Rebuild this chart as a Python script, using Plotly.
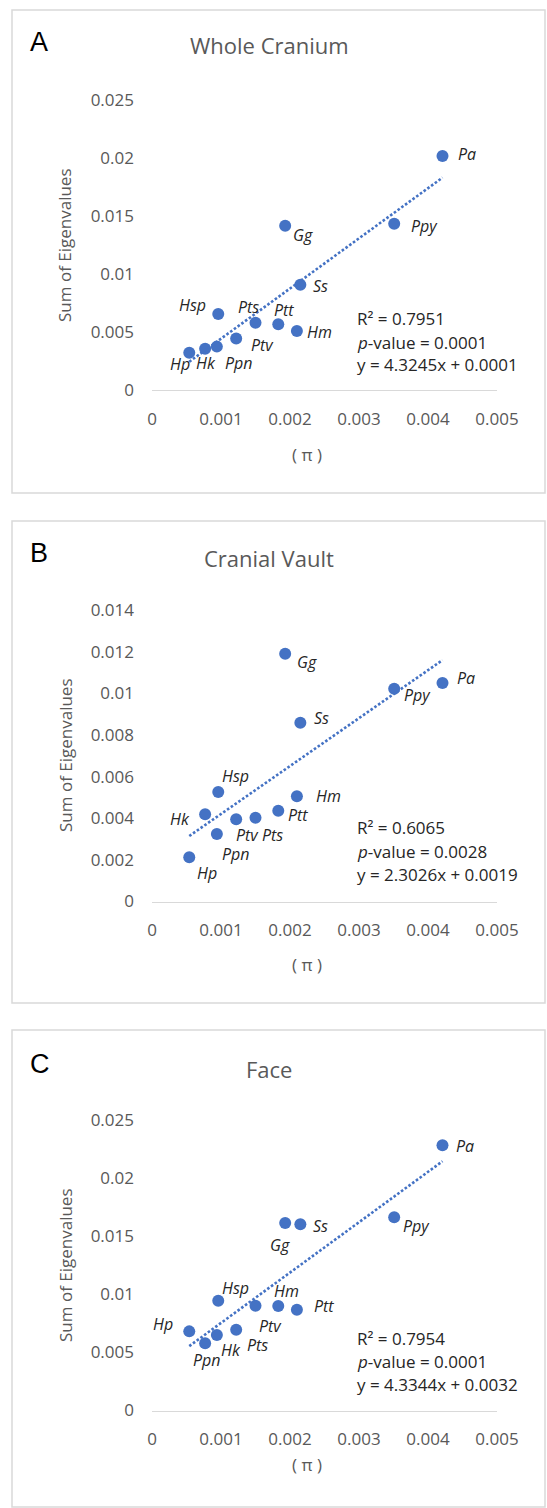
import plotly.graph_objects as go

# ---------------- data ----------------
species = ["Hp", "Hk", "Ppn", "Hsp", "Ptv", "Pts", "Ptt", "Gg", "Hm", "Ss", "Ppy", "Pa"]
pi_values = [0.00054, 0.00077, 0.00094, 0.00096, 0.00122, 0.00150, 0.00183, 0.00193, 0.00210, 0.00215, 0.00351, 0.00421]

whole_cranium = [0.00322, 0.00356, 0.00374, 0.00655, 0.00443, 0.00580, 0.00566, 0.01416, 0.00509, 0.00908, 0.01434, 0.02017]
cranial_vault = [0.00212, 0.00419, 0.00324, 0.00526, 0.00395, 0.00402, 0.00436, 0.01190, 0.00506, 0.00858, 0.01022, 0.01049]
face = [0.00681, 0.00578, 0.00650, 0.00945, 0.00695, 0.00902, 0.00899, 0.01614, 0.00867, 0.01602, 0.01663, 0.02282]

labels_a = species
labels_b = species
labels_c = ["Hp", "Ppn", "Hk", "Hsp", "Pts", "Ptv", "Hm", "Gg", "Ptt", "Ss", "Ppy", "Pa"]

panel_letters = ["A", "B", "C"]
panel_titles = ["Whole Cranium", "Cranial Vault", "Face"]
slopes = [4.3245, 2.3026, 4.3344]
intercepts = [0.0001, 0.0019, 0.0032]
r2_values = ["0.7951", "0.6065", "0.7954"]
p_values = ["0.0001", "0.0028", "0.0001"]

x_tickvals = [0, 0.001, 0.002, 0.003, 0.004, 0.005]
x_ticktext = ["0", "0.001", "0.002", "0.003", "0.004", "0.005"]
y_tickvals_a = [0, 0.005, 0.01, 0.015, 0.02, 0.025]
y_ticktext_a = ["0", "0.005", "0.01", "0.015", "0.02", "0.025"]
y_tickvals_b = [0, 0.002, 0.004, 0.006, 0.008, 0.01, 0.012, 0.014]
y_ticktext_b = ["0", "0.002", "0.004", "0.006", "0.008", "0.01", "0.012", "0.014"]

# ---------------- styling / layout ----------------
W, H = 547, 1508
BLUE = "#4472C4"
GRAY = "#595959"
FONT = "Open Sans"

def px_x(p):
    return p / W

def px_y(p):
    return 1 - p / H

panels = [
    dict(y0=390, y1=100, box=(10, 493), ymax=0.025, tv=y_tickvals_a, tt=y_ticktext_a,
         yvals=whole_cranium, labels=labels_a, title_y=45, letter_y=42, ytitle_y=245, xtitle_y=454,
         eq_y=(318, 342, 365)),
    dict(y0=901.5, y1=610, box=(521, 1003), ymax=0.014, tv=y_tickvals_b, tt=y_ticktext_b,
         yvals=cranial_vault, labels=labels_b, title_y=558, letter_y=553, ytitle_y=755, xtitle_y=965,
         eq_y=(827, 851, 874)),
    dict(y0=1410.5, y1=1120, box=(1030, 1507), ymax=0.025, tv=y_tickvals_a, tt=y_ticktext_a,
         yvals=face, labels=labels_c, title_y=1069, letter_y=1064, ytitle_y=1265, xtitle_y=1464,
         eq_y=(1338, 1361, 1384)),
]

offsets = [
    {"Pa": ("left", 14, 2), "Ppy": ("left", 15, -2), "Gg": ("left", 6, -9), "Ss": ("left", 11, -1),
     "Hsp": ("right", -10, 9), "Pts": ("center", -7, 16), "Ptt": ("center", 6, 14), "Hm": ("left", 8, -1),
     "Ptv": ("left", 13, -6), "Ppn": ("left", 6, -16), "Hk": ("center", 1, -14), "Hp": ("center", -9, -11)},
    {"Gg": ("left", 10, -8), "Pa": ("left", 13, 5), "Ppy": ("left", 8, -6), "Ss": ("left", 12, 5),
     "Hsp": ("center", 17, 16), "Hm": ("left", 17, 0), "Hk": ("right", -13, -5), "Ptt": ("left", 8, -4),
     "Ptv": ("center", 11, -16), "Pts": ("center", 17, -17), "Ppn": ("center", 19, -20), "Hp": ("center", 18, -16)},
    {"Pa": ("left", 12, -1), "Gg": ("center", -5, -22), "Ss": ("left", 11, -2), "Ppy": ("left", 7, -9),
     "Hsp": ("center", 17, 13), "Hm": ("center", 8, 15), "Ptt": ("left", 15, 4), "Ptv": ("center", 15, -20),
     "Hp": ("right", -14, 7), "Pts": ("center", 21, -15), "Hk": ("center", 14, -15), "Ppn": ("center", 2, -17)},
]

fig = go.Figure()
layout = dict(
    width=W, height=H,
    margin=dict(l=0, r=0, t=0, b=0, autoexpand=False),
    paper_bgcolor="white", plot_bgcolor="white",
    showlegend=False,
    font=dict(family=FONT, color=GRAY),
)
annotations = []
shapes = []

for i, pnl in enumerate(panels):
    n = "" if i == 0 else str(i + 1)
    xa, ya = "x" + n, "y" + n
    layout["xaxis" + n] = dict(
        domain=[px_x(152), px_x(497)], range=[0, 0.005], anchor=ya,
        tickvals=x_tickvals, ticktext=x_ticktext, showgrid=False, zeroline=False,
        showline=True, linecolor="#d9d9d9", linewidth=1.3, ticks="",
        ticklabelstandoff=13, tickfont=dict(family=FONT, size=17, color=GRAY), fixedrange=True,
    )
    layout["yaxis" + n] = dict(
        domain=[px_y(pnl["y0"]), px_y(pnl["y1"])], range=[0, pnl["ymax"]], anchor=xa,
        tickvals=pnl["tv"], ticktext=pnl["tt"], showgrid=False, zeroline=False,
        showline=False, ticks="", ticklabelstandoff=17,
        tickfont=dict(family=FONT, size=17, color=GRAY), fixedrange=True,
    )
    fig.add_trace(go.Scatter(
        x=pi_values, y=pnl["yvals"], mode="markers", xaxis=xa, yaxis=ya,
        marker=dict(size=12, color=BLUE), hoverinfo="skip",
    ))
    xmin, xmax = min(pi_values), max(pi_values)
    fig.add_trace(go.Scatter(
        x=[xmin, xmax], y=[slopes[i] * xmin + intercepts[i], slopes[i] * xmax + intercepts[i]],
        mode="lines", xaxis=xa, yaxis=ya,
        line=dict(color=BLUE, width=2.6, dash="2.6px,2px"), hoverinfo="skip",
    ))
    for xv, yv, lab in zip(pi_values, pnl["yvals"], pnl["labels"]):
        anc, dx, dy = offsets[i][lab]
        annotations.append(dict(
            x=xv, y=yv, xref=xa, yref=ya, text="<i>%s</i>" % lab, showarrow=False,
            xanchor=anc, yanchor="middle", xshift=dx, yshift=dy,
            font=dict(family=FONT, size=16, color="#262626"),
        ))
    b0, b1 = pnl["box"]
    shapes.append(dict(type="rect", xref="paper", yref="paper",
                       x0=px_x(12), x1=px_x(545), y0=px_y(b1), y1=px_y(b0),
                       line=dict(color="#d9d9d9", width=1.5), fillcolor="rgba(0,0,0,0)", layer="below"))
    annotations.append(dict(x=px_x(28), y=px_y(pnl["letter_y"]), xref="paper", yref="paper",
                            text=panel_letters[i], showarrow=False, xanchor="left", yanchor="middle",
                            font=dict(family="Liberation Sans", size=27, color="black")))
    annotations.append(dict(x=px_x(269), y=px_y(pnl["title_y"]), xref="paper", yref="paper",
                            text=panel_titles[i], showarrow=False, xanchor="center", yanchor="middle",
                            font=dict(family=FONT, size=22, color=GRAY)))
    annotations.append(dict(x=px_x(65), y=px_y(pnl["ytitle_y"]), xref="paper", yref="paper",
                            text="Sum of Eigenvalues", showarrow=False, textangle=-90,
                            xanchor="center", yanchor="middle",
                            font=dict(family=FONT, size=17, color=GRAY)))
    annotations.append(dict(x=px_x(307), y=px_y(pnl["xtitle_y"]), xref="paper", yref="paper",
                            text="( π )", showarrow=False, xanchor="center", yanchor="middle",
                            font=dict(family=FONT, size=17, color=GRAY)))
    eq_lines = [
        "R² = %s" % r2_values[i],
        "<i>p</i>-value = %s" % p_values[i],
        "y = %.4fx + %.4f" % (slopes[i], intercepts[i]),
    ]
    for line, yy in zip(eq_lines, pnl["eq_y"]):
        annotations.append(dict(x=px_x(355), y=px_y(yy), xref="paper", yref="paper",
                                text=line, showarrow=False, xanchor="left", yanchor="middle",
                                font=dict(family=FONT, size=17, color="#262626")))

layout["annotations"] = annotations
layout["shapes"] = shapes
fig.update_layout(**layout)
fig.write_html(
    "out.html",
    config={"displayModeBar": False},
    post_script="document.body.style.margin='0';document.body.style.overflow='hidden';",
)
